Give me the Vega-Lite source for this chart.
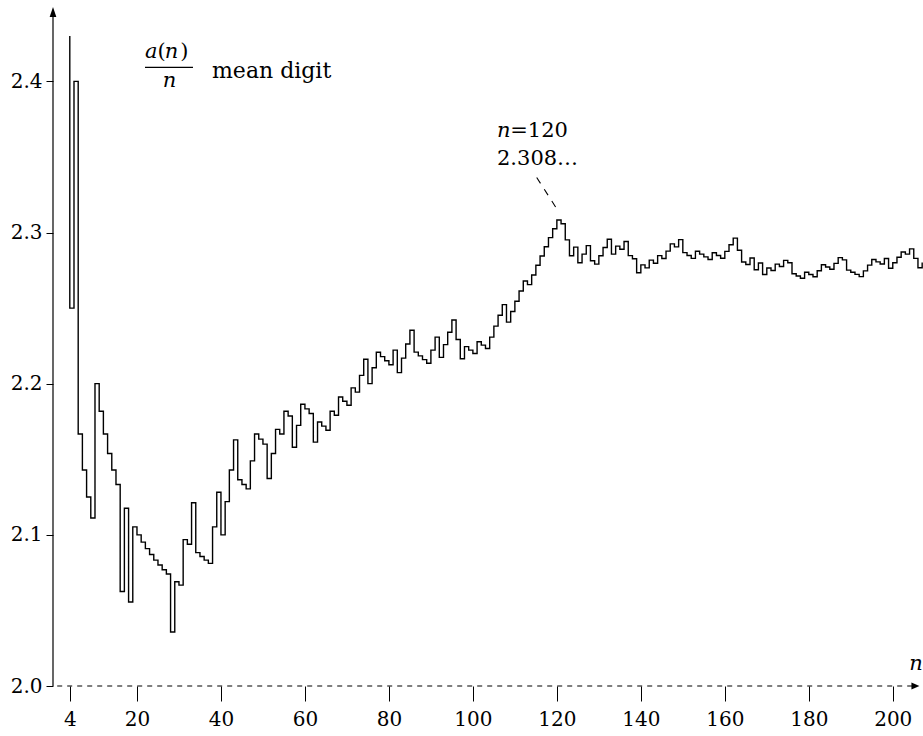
{
"$schema":"https://vega.github.io/schema/vega-lite/v6.json",
"width":870,"height":650,
"autosize":{"type":"none"},
"padding":{"left":53,"top":36,"right":0,"bottom":50},
"background":"white",
"config":{"view":{"stroke":null},"font":"DejaVu Serif"},
"data":{"values":[
{"n":3,"v":2.6667},{"n":4,"v":2.25},{"n":5,"v":2.4},{"n":6,"v":2.1667},{"n":7,"v":2.1429},{"n":8,"v":2.125},{"n":9,"v":2.1111},{"n":10,"v":2.2},
{"n":11,"v":2.1818},{"n":12,"v":2.1667},{"n":13,"v":2.1538},{"n":14,"v":2.1429},{"n":15,"v":2.1333},{"n":16,"v":2.0625},{"n":17,"v":2.1176},{"n":18,"v":2.0556},{"n":19,"v":2.1053},{"n":20,"v":2.1},
{"n":21,"v":2.0952},{"n":22,"v":2.0909},{"n":23,"v":2.087},{"n":24,"v":2.0833},{"n":25,"v":2.08},{"n":26,"v":2.0769},{"n":27,"v":2.0741},{"n":28,"v":2.0357},{"n":29,"v":2.069},{"n":30,"v":2.0667},
{"n":31,"v":2.0968},{"n":32,"v":2.0938},{"n":33,"v":2.1212},{"n":34,"v":2.0882},{"n":35,"v":2.0857},{"n":36,"v":2.0833},{"n":37,"v":2.0811},{"n":38,"v":2.1053},{"n":39,"v":2.1282},{"n":40,"v":2.1},
{"n":41,"v":2.122},{"n":42,"v":2.1429},{"n":43,"v":2.1628},{"n":44,"v":2.1364},{"n":45,"v":2.1333},{"n":46,"v":2.1304},{"n":47,"v":2.1489},{"n":48,"v":2.1667},{"n":49,"v":2.1633},{"n":50,"v":2.16},
{"n":51,"v":2.1373},{"n":52,"v":2.1538},{"n":53,"v":2.1698},{"n":54,"v":2.1667},{"n":55,"v":2.1818},{"n":56,"v":2.1786},{"n":57,"v":2.1579},{"n":58,"v":2.1724},{"n":59,"v":2.1864},{"n":60,"v":2.1833},
{"n":61,"v":2.1803},{"n":62,"v":2.1613},{"n":63,"v":2.1746},{"n":64,"v":2.1719},{"n":65,"v":2.1692},{"n":66,"v":2.1818},{"n":67,"v":2.1791},{"n":68,"v":2.1912},{"n":69,"v":2.1884},{"n":70,"v":2.1857},
{"n":71,"v":2.1972},{"n":72,"v":2.1944},{"n":73,"v":2.2055},{"n":74,"v":2.2162},{"n":75,"v":2.2},{"n":76,"v":2.2105},{"n":77,"v":2.2208},{"n":78,"v":2.2179},{"n":79,"v":2.2152},{"n":80,"v":2.2125},
{"n":81,"v":2.2222},{"n":82,"v":2.2073},{"n":83,"v":2.2169},{"n":84,"v":2.2262},{"n":85,"v":2.2353},{"n":86,"v":2.2209},{"n":87,"v":2.2184},{"n":88,"v":2.2159},{"n":89,"v":2.2135},{"n":90,"v":2.2222},
{"n":91,"v":2.2308},{"n":92,"v":2.2174},{"n":93,"v":2.2258},{"n":94,"v":2.234},{"n":95,"v":2.2421},{"n":96,"v":2.2292},{"n":97,"v":2.2165},{"n":98,"v":2.2245},{"n":99,"v":2.2222},{"n":100,"v":2.22},
{"n":101,"v":2.2277},{"n":102,"v":2.2255},{"n":103,"v":2.2233},{"n":104,"v":2.2308},{"n":105,"v":2.2381},{"n":106,"v":2.2453},{"n":107,"v":2.2523},{"n":108,"v":2.2407},{"n":109,"v":2.2477},{"n":110,"v":2.2545},
{"n":111,"v":2.2613},{"n":112,"v":2.2679},{"n":113,"v":2.2655},{"n":114,"v":2.2719},{"n":115,"v":2.2783},{"n":116,"v":2.2845},{"n":117,"v":2.2906},{"n":118,"v":2.2966},{"n":119,"v":2.3025},{"n":120,"v":2.3083},
{"n":121,"v":2.3058},{"n":122,"v":2.2951},{"n":123,"v":2.2846},{"n":124,"v":2.2903},{"n":125,"v":2.28},{"n":126,"v":2.2857},{"n":127,"v":2.2913},{"n":128,"v":2.2813},{"n":129,"v":2.2791},{"n":130,"v":2.2846},
{"n":131,"v":2.2901},{"n":132,"v":2.2955},{"n":133,"v":2.2857},{"n":134,"v":2.291},{"n":135,"v":2.2889},{"n":136,"v":2.2941},{"n":137,"v":2.2847},{"n":138,"v":2.2826},{"n":139,"v":2.2734},{"n":140,"v":2.2786},
{"n":141,"v":2.2766},{"n":142,"v":2.2817},{"n":143,"v":2.2797},{"n":144,"v":2.2847},{"n":145,"v":2.2828},{"n":146,"v":2.2877},{"n":147,"v":2.2925},{"n":148,"v":2.2905},{"n":149,"v":2.2953},{"n":150,"v":2.2867},
{"n":151,"v":2.2848},{"n":152,"v":2.2829},{"n":153,"v":2.2876},{"n":154,"v":2.2857},{"n":155,"v":2.2839},{"n":156,"v":2.2821},{"n":157,"v":2.2866},{"n":158,"v":2.2848},{"n":159,"v":2.283},{"n":160,"v":2.2875},
{"n":161,"v":2.2919},{"n":162,"v":2.2963},{"n":163,"v":2.2883},{"n":164,"v":2.2805},{"n":165,"v":2.2788},{"n":166,"v":2.2831},{"n":167,"v":2.2754},{"n":168,"v":2.2798},{"n":169,"v":2.2722},{"n":170,"v":2.2765},
{"n":171,"v":2.2749},{"n":172,"v":2.2791},{"n":173,"v":2.2775},{"n":174,"v":2.2816},{"n":175,"v":2.28},{"n":176,"v":2.2727},{"n":177,"v":2.2712},{"n":178,"v":2.2697},{"n":179,"v":2.2737},{"n":180,"v":2.2722},
{"n":181,"v":2.2707},{"n":182,"v":2.2747},{"n":183,"v":2.2787},{"n":184,"v":2.2772},{"n":185,"v":2.2757},{"n":186,"v":2.2796},{"n":187,"v":2.2834},{"n":188,"v":2.2819},{"n":189,"v":2.2751},{"n":190,"v":2.2737},
{"n":191,"v":2.2723},{"n":192,"v":2.2708},{"n":193,"v":2.2746},{"n":194,"v":2.2784},{"n":195,"v":2.2821},{"n":196,"v":2.2806},{"n":197,"v":2.2792},{"n":198,"v":2.2828},{"n":199,"v":2.2764},{"n":200,"v":2.28},
{"n":201,"v":2.2836},{"n":202,"v":2.2871},{"n":203,"v":2.2857},{"n":204,"v":2.2892},{"n":205,"v":2.2829},{"n":206,"v":2.2767},{"n":207,"v":2.2802}
]},
"layer":[
{"mark":{"type":"line","interpolate":"step-after","clip":true,"stroke":"black","strokeWidth":1.4},
 "encoding":{
  "x":{"field":"n","type":"quantitative","scale":{"domain":[0,207.2],"nice":false,"zero":false},
   "axis":{"values":[4,20,40,60,80,100,120,140,160,180,200],"title":null,"domain":false,"grid":false,"ticks":true,"tickSize":15,"tickColor":"black","tickWidth":1,"labelFont":"DejaVu Serif","labelFontSize":20,"labelColor":"black","labelPadding":8,"labelFlush":false,"labelOverlap":false}},
  "y":{"field":"v","type":"quantitative","scale":{"domain":[2,2.43],"nice":false,"zero":false},
   "axis":{"values":[2.0,2.1,2.2,2.3,2.4],"format":".1f","title":null,"domain":false,"grid":false,"ticks":true,"tickSize":7,"tickColor":"black","tickWidth":1,"labelFont":"DejaVu Serif","labelFontSize":20,"labelColor":"black","labelPadding":4,"labelFlush":false,"labelOverlap":false}}
 }},
{"data":{"values":[{}]},"mark":{"type":"rule","stroke":"black","strokeWidth":1.2},
 "encoding":{"x":{"datum":0,"type":"quantitative"},"y":{"datum":2.0,"type":"quantitative"},"y2":{"datum":2.445}}},
{"data":{"values":[{}]},"mark":{"type":"point","shape":"M0,-1L0.67,1L-0.67,1Z","size":100,"filled":true,"fill":"black","stroke":null,"opacity":1},
 "encoding":{"x":{"datum":0,"type":"quantitative"},"y":{"datum":2.4459,"type":"quantitative"}}},
{"data":{"values":[{}]},"mark":{"type":"rule","stroke":"black","strokeWidth":1.2,"strokeDash":[5,5]},
 "encoding":{"x":{"datum":1,"type":"quantitative"},"x2":{"datum":204.6},"y":{"datum":2.0,"type":"quantitative"}}},
{"data":{"values":[{}]},"mark":{"type":"point","shape":"M1,0L-1,-0.9L-1,0.9Z","size":64,"filled":true,"fill":"black","stroke":null,"opacity":1},
 "encoding":{"x":{"datum":205.4,"type":"quantitative"},"y":{"datum":2.0,"type":"quantitative"}}},
{"data":{"values":[{}]},"mark":{"type":"text","text":"n","font":"DejaVu Serif","fontStyle":"italic","fontSize":21,"align":"left","baseline":"alphabetic","color":"black"},
 "encoding":{"x":{"datum":203.9,"type":"quantitative"},"y":{"datum":2.0109,"type":"quantitative"}}},
{"data":{"values":[{}]},"mark":{"type":"text","text":"a","font":"DejaVu Serif","fontStyle":"italic","fontSize":21,"align":"left","baseline":"alphabetic","color":"black"},
 "encoding":{"x":{"datum":21.91,"type":"quantitative"},"y":{"datum":2.4157,"type":"quantitative"}}},
{"data":{"values":[{}]},"mark":{"type":"text","text":"(","font":"DejaVu Serif","fontSize":21,"align":"left","baseline":"alphabetic","color":"black"},
 "encoding":{"x":{"datum":24.9,"type":"quantitative"},"y":{"datum":2.4157,"type":"quantitative"}}},
{"data":{"values":[{}]},"mark":{"type":"text","text":"n","font":"DejaVu Serif","fontStyle":"italic","fontSize":21,"align":"left","baseline":"alphabetic","color":"black"},
 "encoding":{"x":{"datum":26.6,"type":"quantitative"},"y":{"datum":2.4157,"type":"quantitative"}}},
{"data":{"values":[{}]},"mark":{"type":"text","text":")","font":"DejaVu Serif","fontSize":21,"align":"left","baseline":"alphabetic","color":"black"},
 "encoding":{"x":{"datum":30.3,"type":"quantitative"},"y":{"datum":2.4157,"type":"quantitative"}}},
{"data":{"values":[{}]},"mark":{"type":"rule","stroke":"black","strokeWidth":1.2},
 "encoding":{"x":{"datum":21.91,"type":"quantitative"},"x2":{"datum":33.34},"y":{"datum":2.4093,"type":"quantitative"}}},
{"data":{"values":[{}]},"mark":{"type":"text","text":"n","font":"DejaVu Serif","fontStyle":"italic","fontSize":21,"align":"center","baseline":"alphabetic","color":"black"},
 "encoding":{"x":{"datum":27.75,"type":"quantitative"},"y":{"datum":2.3963,"type":"quantitative"}}},
{"data":{"values":[{}]},"mark":{"type":"text","text":"mean digit","font":"DejaVu Serif","fontSize":22,"align":"left","baseline":"alphabetic","color":"black"},
 "encoding":{"x":{"datum":37.87,"type":"quantitative"},"y":{"datum":2.402,"type":"quantitative"}}},
{"data":{"values":[{}]},"mark":{"type":"text","text":"n","font":"DejaVu Serif","fontStyle":"italic","fontSize":21,"align":"left","baseline":"alphabetic","color":"black"},
 "encoding":{"x":{"datum":105.74,"type":"quantitative"},"y":{"datum":2.3632,"type":"quantitative"}}},
{"data":{"values":[{}]},"mark":{"type":"text","text":"=120","font":"DejaVu Serif","fontSize":21,"align":"left","baseline":"alphabetic","color":"black"},
 "encoding":{"x":{"datum":108.9,"type":"quantitative"},"y":{"datum":2.3632,"type":"quantitative"}}},
{"data":{"values":[{}]},"mark":{"type":"text","text":"2.308…","font":"DejaVu Serif","fontSize":21,"align":"left","baseline":"alphabetic","color":"black"},
 "encoding":{"x":{"datum":105.74,"type":"quantitative"},"y":{"datum":2.3447,"type":"quantitative"}}},
{"data":{"values":[{}]},"mark":{"type":"rule","stroke":"black","strokeWidth":1.1,"strokeDash":[7,7]},
 "encoding":{"x":{"datum":115.2,"type":"quantitative"},"y":{"datum":2.3364,"type":"quantitative"},"x2":{"datum":120.3},"y2":{"datum":2.3143}}}
]
}
